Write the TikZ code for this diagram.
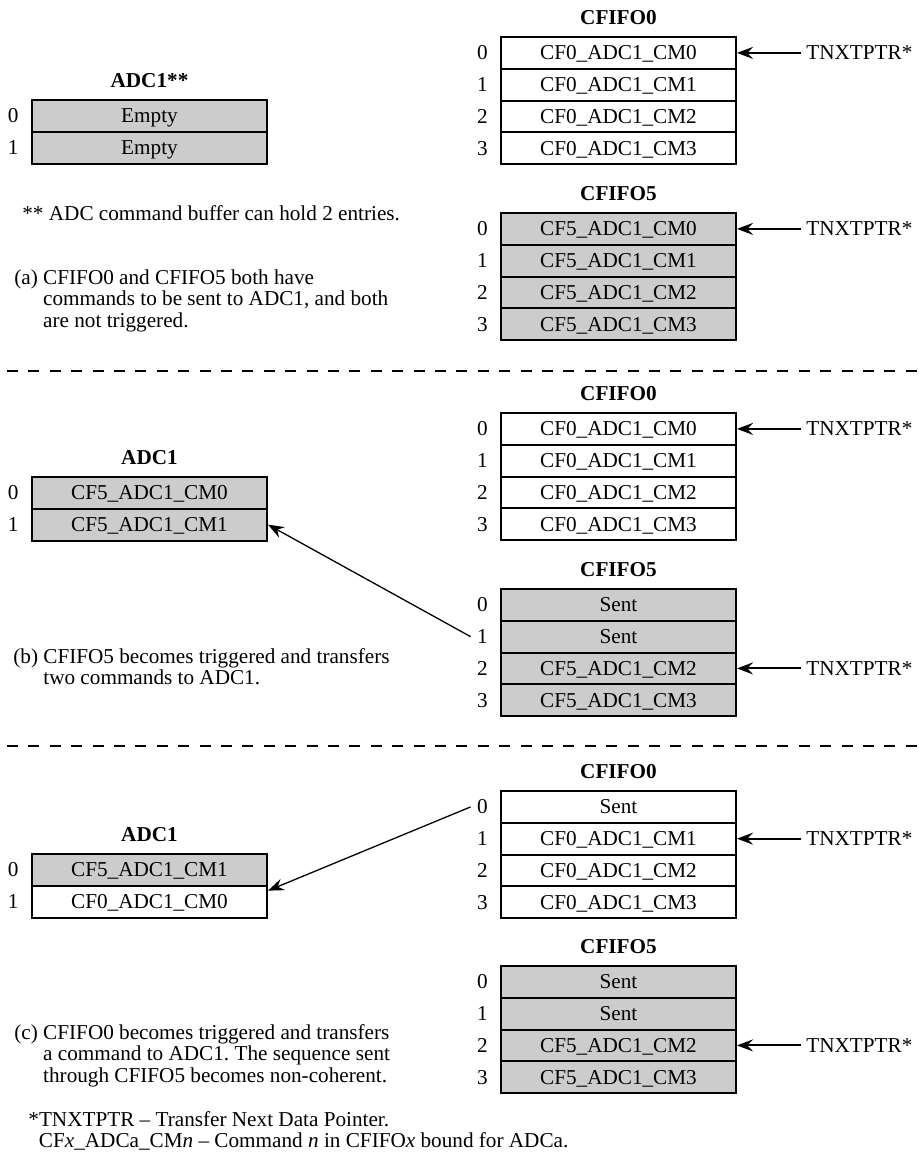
\documentclass[tikz,border=0pt]{standalone}
\usepackage{fontspec}
\setmainfont{Liberation Serif}
\usepackage{xcolor}
\usepackage{tikz}
\usetikzlibrary{positioning,arrows.meta}
\definecolor{cellgray}{gray}{0.8}
\frenchspacing

\begin{document}
\begin{tikzpicture}[x=0.5pt, y=-0.5pt, font=\fontsize{10.6}{10.75}\selectfont,
  cell/.style={draw, line width=1pt, minimum width=117.5pt, minimum height=15.875pt, inner sep=0pt, text height=7pt, text depth=0pt},
  title/.style={font=\fontsize{10.6}{10.75}\selectfont\bfseries, inner sep=0pt},
  idx/.style={inner sep=0pt, text height=7pt, text depth=0pt},
  ptr/.style={inner sep=2.5pt, text height=7pt, text depth=0pt},
  txt/.style={align=left, anchor=north west, inner sep=0pt},
  arr/.style={-{Stealth[length=8pt, width=6pt, inset=2.8pt]}, line width=0.65pt},
  parr/.style={arr, line width=1pt},
  cutline/.style={line width=1pt, dash pattern=on 5.5pt off 5.2pt}]
\useasboundingbox (0,0) rectangle (918,1162);
\foreach \i/\f/\t in {0/cellgray/Empty, 1/cellgray/Empty} {
  \node[cell, fill=\f] (aadc\i) at (149.5,{115.9+31.75*\i}) {\t};
  \node[idx, left=6pt of aadc\i] (aadci\i) {\i};
}
\node[title, above=5.5pt of aadc0] (aadct) {ADC1**};
\foreach \i/\f/\t in {0/white/CF0\_ADC1\_CM0, 1/white/CF0\_ADC1\_CM1, 2/white/CF0\_ADC1\_CM2, 3/white/CF0\_ADC1\_CM3} {
  \node[cell, fill=\f] (a0r\i) at (618.5,{52.9+31.75*\i}) {\t};
  \node[idx, left=6pt of a0r\i] (a0i\i) {\i};
}
\node[title, above=5.5pt of a0r0] (a0t) {CFIFO0};
\foreach \i/\f/\t in {0/cellgray/CF5\_ADC1\_CM0, 1/cellgray/CF5\_ADC1\_CM1, 2/cellgray/CF5\_ADC1\_CM2, 3/cellgray/CF5\_ADC1\_CM3} {
  \node[cell, fill=\f] (a5r\i) at (618.5,{228.9+31.75*\i}) {\t};
  \node[idx, left=6pt of a5r\i] (a5i\i) {\i};
}
\node[title, above=5.5pt of a5r0] (a5t) {CFIFO5};
\node[ptr, right=32pt of a0r0] (a0p) {TNXTPTR*};
\node[ptr, right=32pt of a5r0] (a5p) {TNXTPTR*};
\draw[parr] (a0p.west) -- (a0r0.east);
\draw[parr] (a5p.west) -- (a5r0.east);
\node[txt] (anote) at (22,205) {** ADC command buffer can hold 2 entries.};
\node[txt] (acap) at (14,269) {(a) CFIFO0 and CFIFO5 both have\\\phantom{(a) }commands to be sent to ADC1, and both\\\phantom{(a) }are not triggered.};
\draw[cutline] (7,371) -- (918,371);
\foreach \i/\f/\t in {0/cellgray/CF5\_ADC1\_CM0, 1/cellgray/CF5\_ADC1\_CM1} {
  \node[cell, fill=\f] (badc\i) at (149.5,{492.9+31.75*\i}) {\t};
  \node[idx, left=6pt of badc\i] (badci\i) {\i};
}
\node[title, above=5.5pt of badc0] (badct) {ADC1};
\foreach \i/\f/\t in {0/white/CF0\_ADC1\_CM0, 1/white/CF0\_ADC1\_CM1, 2/white/CF0\_ADC1\_CM2, 3/white/CF0\_ADC1\_CM3} {
  \node[cell, fill=\f] (b0r\i) at (618.5,{428.9+31.75*\i}) {\t};
  \node[idx, left=6pt of b0r\i] (b0i\i) {\i};
}
\node[title, above=5.5pt of b0r0] (b0t) {CFIFO0};
\foreach \i/\f/\t in {0/cellgray/Sent, 1/cellgray/Sent, 2/cellgray/CF5\_ADC1\_CM2, 3/cellgray/CF5\_ADC1\_CM3} {
  \node[cell, fill=\f] (b5r\i) at (618.5,{604.9+31.75*\i}) {\t};
  \node[idx, left=6pt of b5r\i] (b5i\i) {\i};
}
\node[title, above=5.5pt of b5r0] (b5t) {CFIFO5};
\node[ptr, right=32pt of b0r0] (b0p) {TNXTPTR*};
\node[ptr, right=32pt of b5r2] (b5p) {TNXTPTR*};
\draw[parr] (b0p.west) -- (b0r0.east);
\draw[parr] (b5p.west) -- (b5r2.east);
\draw[arr] ([xshift=-3pt]b5i1.west) -- (badc1.east);
\node[txt] (bcap) at (13,648) {(b) CFIFO5 becomes triggered and transfers\\\phantom{(b) }two commands to ADC1.};
\draw[cutline] (7,746) -- (918,746);
\foreach \i/\f/\t in {0/cellgray/CF5\_ADC1\_CM1, 1/white/CF0\_ADC1\_CM0} {
  \node[cell, fill=\f] (cadc\i) at (149.5,{869.9+31.75*\i}) {\t};
  \node[idx, left=6pt of cadc\i] (cadci\i) {\i};
}
\node[title, above=5.5pt of cadc0] (cadct) {ADC1};
\foreach \i/\f/\t in {0/white/Sent, 1/white/CF0\_ADC1\_CM1, 2/white/CF0\_ADC1\_CM2, 3/white/CF0\_ADC1\_CM3} {
  \node[cell, fill=\f] (c0r\i) at (618.5,{806.9+31.75*\i}) {\t};
  \node[idx, left=6pt of c0r\i] (c0i\i) {\i};
}
\node[title, above=5.5pt of c0r0] (c0t) {CFIFO0};
\foreach \i/\f/\t in {0/cellgray/Sent, 1/cellgray/Sent, 2/cellgray/CF5\_ADC1\_CM2, 3/cellgray/CF5\_ADC1\_CM3} {
  \node[cell, fill=\f] (c5r\i) at (618.5,{981.9+31.75*\i}) {\t};
  \node[idx, left=6pt of c5r\i] (c5i\i) {\i};
}
\node[title, above=5.5pt of c5r0] (c5t) {CFIFO5};
\node[ptr, right=32pt of c0r1] (c0p) {TNXTPTR*};
\node[ptr, right=32pt of c5r2] (c5p) {TNXTPTR*};
\draw[parr] (c0p.west) -- (c0r1.east);
\draw[parr] (c5p.west) -- (c5r2.east);
\draw[arr] ([xshift=-3pt]c0i0.west) -- ([yshift=5.5pt]cadc1.east);
\node[txt] (ccap) at (14,1024) {(c) CFIFO0 becomes triggered and transfers\\\phantom{(c) }a command to ADC1. The sequence sent\\\phantom{(c) }through CFIFO5 becomes non-coherent.};
\node[txt] (foot) at (28,1111) {*TNXTPTR – Transfer Next Data Pointer.\\\phantom{*}CF\textit{x}\_ADCa\_CM\textit{n} – Command \textit{n} in CFIFO\textit{x} bound for ADCa.};
\end{tikzpicture}
\end{document}
